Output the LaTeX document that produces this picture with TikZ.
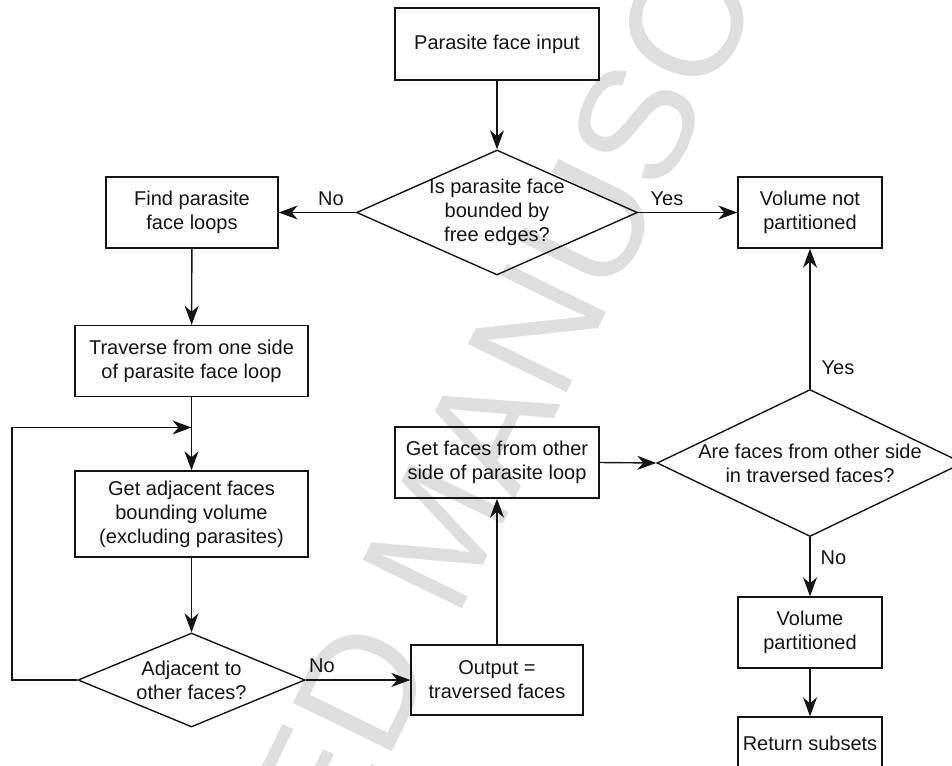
\documentclass[tikz,border=0pt]{standalone}
\usepackage{fontspec}
\setmainfont{Liberation Sans}
\usetikzlibrary{arrows.meta,shapes.geometric}
\definecolor{wmgray}{RGB}{222,222,222}
\definecolor{ink}{RGB}{20,20,20}
\tikzset{
  base/.style={font=\fontsize{20}{24}\selectfont, text=ink, align=center},
  box/.style={base, draw=ink, line width=1.4pt, rectangle, inner sep=0pt},
  decision/.style={base, draw=ink, line width=1.4pt, diamond, inner sep=-300pt},
  arr/.style={draw=ink, line width=1.4pt, -{Stealth[length=19pt,width=14pt,inset=6pt]}},
  lbl/.style={base, inner sep=0pt},
}
\begin{document}
\begin{tikzpicture}[x=1pt,y=-1pt]
\useasboundingbox (0,0) rectangle (952,765);
\clip (0,0) rectangle (952,765);
% watermark
\node[rotate=64, font=\fontsize{160}{160}\selectfont, text=wmgray, inner sep=0pt] (wmk) at (438,532) {ACCEPTED MANUSCRIPT};
% nodes
\node[box, minimum width=204pt, minimum height=72pt] (in) at (497,44) {Parasite face input};
\node[decision, minimum width=281pt, minimum height=125pt] (d1) at (497,212.5) {Is parasite face\\bounded by\\free edges?};
\node[box, minimum width=172pt, minimum height=71pt] (find) at (192,212.5) {Find parasite\\face loops};
\node[box, minimum width=233pt, minimum height=71pt] (trav) at (191.5,361) {Traverse from one side\\of parasite face loop};
\node[box, minimum width=233pt, minimum height=86pt] (adj) at (191.5,514) {Get adjacent faces\\bounding volume\\(excluding parasites)};
\node[decision, minimum width=227pt, minimum height=94pt] (d2) at (191.5,680) {Adjacent to\\other faces?};
\node[box, minimum width=172pt, minimum height=70pt] (out) at (497,680) {Output =\\traversed faces};
\node[box, minimum width=204pt, minimum height=71pt] (other) at (497,462.5) {Get faces from other\\side of parasite loop};
\node[decision, minimum width=306pt, minimum height=147pt] (d3) at (810,463) {Are faces from other side\\in traversed faces?};
\node[box, minimum width=144pt, minimum height=71pt] (vnp) at (810,212.5) {Volume not\\partitioned};
\node[box, minimum width=144pt, minimum height=71pt] (vp) at (810,632.5) {Volume\\partitioned};
\node[box, minimum width=144pt, minimum height=53pt] (ret) at (810,743.5) {Return subsets};
% labels
\node[lbl] (l1) at (331,199) {No};
\node[lbl] (l2) at (667,199) {Yes};
\node[lbl] (l3) at (322,666) {No};
\node[lbl] (l4) at (838,368) {Yes};
\node[lbl] (l5) at (833.5,558) {No};
% connectors
\coordinate (j) at (191.5,427.5);
\coordinate (lp) at (12,427.5);
\draw[arr] (in) -- (d1);
\draw[arr] (d1.west) -- (find.east);
\draw[arr] (d1.east) -- (vnp.west);
\draw[arr] (find) -- (trav);
\draw[arr] (trav) -- (adj);
\draw[arr] (d2.west) -| (lp) -- (j);
\draw[arr] (adj) -- (d2);
\draw[arr] (d2.east) -- (out.west);
\draw[arr] (out) -- (other);
\draw[arr] (other.east) -- (d3.west);
\draw[arr] (d3.north) -- (vnp.south);
\draw[arr] (d3.south) -- (vp.north);
\draw[arr] (vp) -- (ret);
\end{tikzpicture}
\end{document}
